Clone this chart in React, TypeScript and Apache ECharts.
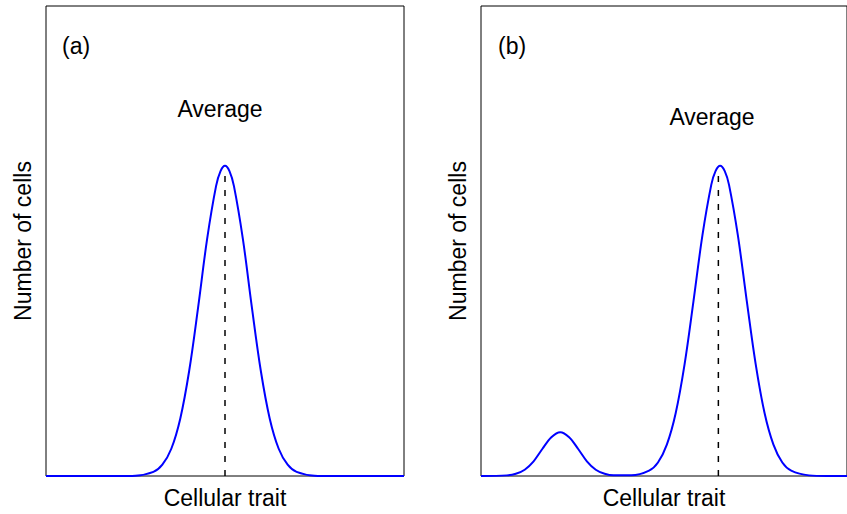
import React, { useEffect, useRef } from "react";
import * as echarts from "echarts";

// Panel (a): single population
const leftX = [0, 1, 2, 2.5, 3, 3.25, 3.5, 3.75, 4, 4.25, 4.5, 4.75, 4.875, 5, 5.125, 5.25, 5.5, 5.75, 6, 6.25, 6.5, 6.75, 7, 7.5, 8, 9, 10];
const leftY = [0, 0, 0, 0.001, 0.013, 0.036, 0.087, 0.183, 0.336, 0.539, 0.756, 0.925, 0.973, 0.99, 0.973, 0.925, 0.756, 0.539, 0.336, 0.183, 0.087, 0.036, 0.013, 0.001, 0, 0, 0];
const leftAverage = 5.0;

// Panel (b): small subpopulation + main population
const rightX = [0, 0.73, 0.98, 1.23, 1.48, 1.73, 1.98, 2.23, 2.48, 2.73, 2.98, 3.23, 3.48, 3.73, 4.23, 4.73, 4.98, 5.23, 5.48, 5.73, 5.98, 6.23, 6.48, 6.6, 6.73, 6.86, 6.98, 7.23, 7.48, 7.73, 7.98, 8.23, 8.48, 8.73, 9.23, 9.73, 10.3];
const rightY = [0, 0.002, 0.007, 0.02, 0.047, 0.087, 0.124, 0.14, 0.124, 0.087, 0.047, 0.02, 0.007, 0.002, 0.002, 0.017, 0.043, 0.1, 0.201, 0.357, 0.558, 0.767, 0.929, 0.973, 0.99, 0.973, 0.929, 0.767, 0.558, 0.357, 0.201, 0.1, 0.043, 0.017, 0.002, 0, 0];
const rightAverage = 6.68;
const averageTop = 0.98;

const panelLabels = ["(a)", "(b)"];
const xName = "Cellular trait";
const yName = "Number of cells";
const avgLabel = "Average";

const FONT = "'Liberation Sans', Arial, Helvetica, sans-serif";
const FS = 23;

export default function App() {
  const ref = useRef<HTMLDivElement>(null);
  useEffect(() => {
    if (!ref.current) return;
    const chart = echarts.init(ref.current, null, { renderer: "svg" });
    const mkX = (gi: number, max: number) => ({
      type: "value",
      gridIndex: gi,
      min: 0,
      max,
      name: xName,
      nameLocation: "middle",
      nameGap: 10,
      nameTextStyle: { fontSize: FS, color: "#000", fontFamily: FONT },
      axisLine: { show: false },
      axisTick: { show: false },
      axisLabel: { show: false },
      splitLine: { show: false },
    });
    const mkY = (gi: number) => ({
      type: "value",
      gridIndex: gi,
      min: 0,
      max: 1.5,
      name: yName,
      nameLocation: "middle",
      nameGap: 12,
      nameTextStyle: { fontSize: FS, color: "#000", fontFamily: FONT },
      axisLine: { show: false },
      axisTick: { show: false },
      axisLabel: { show: false },
      splitLine: { show: false },
    });
    const curve = (xs: number[], ys: number[], idx: number) => ({
      type: "line",
      xAxisIndex: idx,
      yAxisIndex: idx,
      data: xs.map((x, i) => [x, ys[i]]),
      smooth: 0.35,
      showSymbol: false,
      lineStyle: { color: "#0000ff", width: 2 },
      z: 3,
    });
    const avgLine = (x: number, idx: number) => ({
      type: "line",
      xAxisIndex: idx,
      yAxisIndex: idx,
      data: [
        [x, 0],
        [x, averageTop],
      ],
      showSymbol: false,
      lineStyle: { color: "#000", width: 1.5, type: [6, 8] },
      z: 2,
    });
    chart.setOption({
      animation: false,
      grid: [
        { left: 46, top: 6, right: 443, bottom: 38, show: true, borderColor: "#000", borderWidth: 1 },
        { left: 481, top: 6, right: -3, bottom: 38, show: true, borderColor: "#000", borderWidth: 1 },
      ],
      xAxis: [mkX(0, 10), mkX(1, 10.3)],
      yAxis: [mkY(0), mkY(1)],
      series: [
        avgLine(leftAverage, 0),
        curve(leftX, leftY, 0),
        avgLine(rightAverage, 1),
        curve(rightX, rightY, 1),
      ],
      graphic: [
        { type: "text", left: 62, top: 34, style: { text: panelLabels[0], fontSize: FS, fill: "#000", fontFamily: FONT } },
        { type: "text", left: 498, top: 34, style: { text: panelLabels[1], fontSize: FS, fill: "#000", fontFamily: FONT } },
        { type: "text", x: 220, y: 109, style: { text: avgLabel, fontSize: FS, fill: "#000", fontFamily: FONT, align: "center", verticalAlign: "middle" } },
        { type: "text", x: 712, y: 117, style: { text: avgLabel, fontSize: FS, fill: "#000", fontFamily: FONT, align: "center", verticalAlign: "middle" } },
      ],
    });
    return () => chart.dispose();
  }, []);
  return (
    <div
      ref={ref}
      style={{ position: "fixed", left: 0, top: 0, width: 847, height: 514, background: "#fff" }}
    />
  );
}
